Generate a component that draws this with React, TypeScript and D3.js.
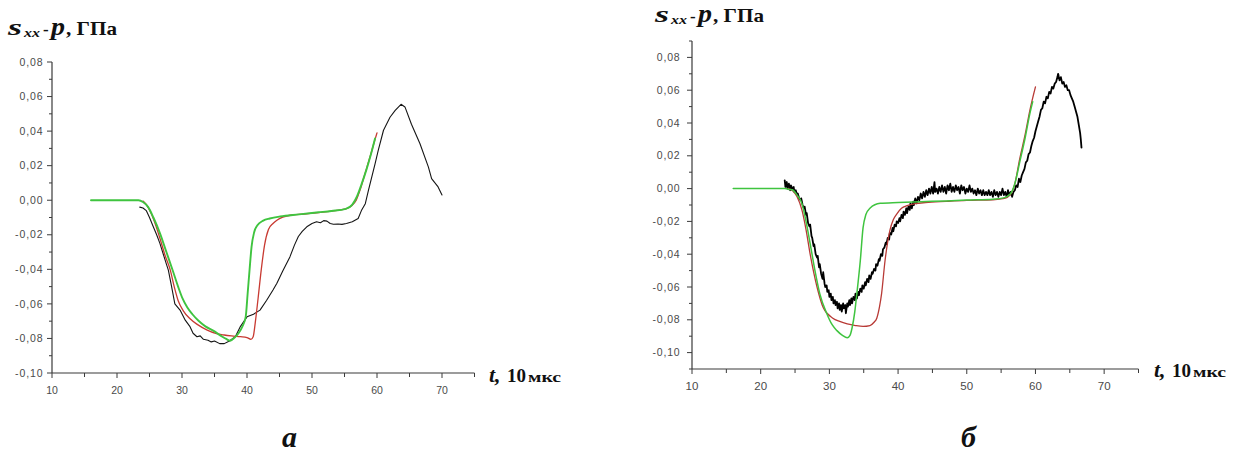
import React from "react";
import * as d3 from "d3";

// ---------- DATA ----------
const xTickValues = [10, 20, 30, 40, 50, 60, 70];
const xMinorValues = [15, 25, 35, 45, 55, 65, 75];
const yTickValues = [-0.1, -0.08, -0.06, -0.04, -0.02, 0, 0.02, 0.04, 0.06, 0.08];
const yMinorA = [-0.09, -0.07, -0.05, -0.03, -0.01, 0.01, 0.03, 0.05, 0.07];
const yMinorB = [-0.11, -0.09, -0.07, -0.05, -0.03, -0.01, 0.01, 0.03, 0.05, 0.07, 0.09];

const yLabelText = { s: "s", sub: "xx", dash: "-", p: "p", unit: ", ГПа" };
const xLabelText = { t: "t,", num: "10", unit: "мкс" };
const panelLetters = ["а", "б"];

// panel а : [t, value]
const aGreen: [number, number][] = [
  [16, 0], [23.3, 0], [24, -0.001], [24.8, -0.004], [25.6, -0.01], [26.6, -0.019], [27.6, -0.03],
  [28.6, -0.041], [29.4, -0.05], [30.1, -0.057], [30.8, -0.062], [31.6, -0.066], [32.5, -0.0696],
  [33.6, -0.073], [34.8, -0.0755], [36, -0.0785], [36.8, -0.0803], [37.4, -0.0813], [38.1, -0.0795],
  [38.7, -0.077], [39.3, -0.073], [39.8, -0.0675], [40.1, -0.054], [40.4, -0.04], [40.7, -0.027],
  [41.1, -0.0185], [41.6, -0.0145], [42.5, -0.0118], [43.5, -0.0106], [45.1, -0.0094], [48, -0.0082],
  [51, -0.007], [53, -0.0062], [55.2, -0.005], [56.2, -0.0025], [56.9, 0.002], [57.6, 0.009],
  [58.4, 0.018], [59.1, 0.027], [59.7, 0.0357],
];
const aRed: [number, number][] = [
  [24, -0.0005], [24.6, -0.003], [25.3, -0.008], [26, -0.015], [26.6, -0.022], [27.4, -0.032],
  [28.2, -0.0405], [28.8, -0.05], [29.4, -0.058], [30.2, -0.064], [31.2, -0.0685], [32.4, -0.072],
  [33.8, -0.075], [35.3, -0.0772], [36.5, -0.078], [37.9, -0.0786], [39, -0.079], [40, -0.0795],
  [40.6, -0.0805], [40.95, -0.079], [41.3, -0.07], [41.7, -0.057], [42.2, -0.04], [42.7, -0.026],
  [43.3, -0.017], [44, -0.0135], [44.6, -0.0116], [45.5, -0.0098], [46.6, -0.0087], [48, -0.0082],
  [51, -0.0072], [53, -0.0063], [55, -0.0052], [56, -0.0035], [56.8, 0.0], [57.4, 0.006],
  [58.2, 0.016], [59, 0.026], [59.6, 0.034], [60, 0.039],
];
const aBlack: [number, number][] = [
  [23.5, -0.004], [24, -0.0045], [24.5, -0.006], [25, -0.01], [25.6, -0.0155], [26.1, -0.02],
  [26.6, -0.025], [27.1, -0.031], [27.6, -0.037], [27.9, -0.0405], [28.4, -0.05], [28.9, -0.06],
  [29.7, -0.0636], [30.5, -0.0694], [31.2, -0.073], [31.7, -0.077], [32.3, -0.079], [32.8, -0.0785],
  [33.3, -0.0805], [34, -0.081], [34.5, -0.082], [35, -0.0815], [35.8, -0.083], [36.5, -0.083],
  [37.3, -0.0815], [38.2, -0.079], [39, -0.073], [40, -0.0675], [41, -0.066], [42, -0.0636],
  [43, -0.058], [44, -0.052], [44.6, -0.048], [45.5, -0.041], [46.6, -0.0328], [47.3, -0.026],
  [47.9, -0.021], [48.5, -0.018], [49.2, -0.0154], [50, -0.0135], [50.7, -0.0125], [51.3, -0.013],
  [51.8, -0.0118], [52.3, -0.0121], [52.8, -0.0135], [53.3, -0.0139], [54, -0.0138], [54.6, -0.014],
  [55.3, -0.0135], [56.2, -0.0125], [57.1, -0.0106], [57.6, -0.006], [58.2, -0.002], [58.7, 0.006],
  [59.2, 0.0135], [59.7, 0.021], [60.2, 0.029], [61, 0.0405], [62, 0.048], [62.8, 0.052],
  [63.7, 0.0555], [64.3, 0.054], [65.3, 0.044], [66.6, 0.0328], [67.9, 0.0193], [68.4, 0.0125],
  [69.4, 0.0077], [70, 0.003],
];

// panel б : [t, value]
const bGreen: [number, number][] = [
  [16, 0], [23.5, 0], [24.2, -0.0005], [24.7, -0.001], [25.3, -0.004], [26, -0.009], [26.6, -0.02],
  [27.2, -0.0335], [27.9, -0.05], [28.6, -0.064], [29.6, -0.076], [30.4, -0.083], [31.1, -0.0866],
  [31.9, -0.0895], [32.6, -0.091], [33, -0.0895], [33.3, -0.085], [33.7, -0.075], [34, -0.064],
  [34.5, -0.044], [34.9, -0.024], [35.3, -0.016], [35.9, -0.012], [37.4, -0.009], [40, -0.0085],
  [43.2, -0.008], [47, -0.0075], [50, -0.007], [53.8, -0.0065], [55.5, -0.0055], [56.3, -0.0035],
  [57, 0.003], [57.7, 0.016], [58.5, 0.031], [59.2, 0.046], [59.6, 0.053],
];
const bRed: [number, number][] = [
  [24, 0], [24.7, -0.0015], [25.3, -0.005], [26, -0.013], [26.6, -0.025], [27.2, -0.04],
  [28.2, -0.06], [29.1, -0.0725], [30.5, -0.079], [31.5, -0.081], [32.6, -0.0825], [33.8, -0.0835],
  [34.9, -0.084], [35.9, -0.0835], [36.5, -0.0815], [36.9, -0.079], [37.3, -0.072], [37.6, -0.064],
  [38.1, -0.044], [38.8, -0.0256], [39.3, -0.019], [39.8, -0.0155], [40.5, -0.012], [41.3, -0.0104],
  [42.5, -0.0092], [44, -0.0085], [47, -0.0078], [50, -0.0072], [53.8, -0.0068], [55.5, -0.006],
  [56.3, -0.004], [57, 0.003], [57.7, 0.018], [58.5, 0.033], [59.2, 0.048], [60, 0.062],
];
const bBlack: [number, number][] = [
  [23.5, 0.005], [23.6, 0.001], [23.8, 0.004], [23.9, 0.0], [24.1, 0.003], [24.3, -0.001],
  [24.4, 0.002], [24.6, 0.0], [24.8, 0.001], [24.9, -0.002], [25.1, -0.001], [25.3, -0.004],
  [25.4, -0.003], [25.6, -0.006], [25.8, -0.007], [25.9, -0.006], [26.1, -0.01], [26.3, -0.012],
  [26.4, -0.011], [26.6, -0.016], [26.7, -0.015], [26.9, -0.021], [27.1, -0.023], [27.2, -0.022],
  [27.4, -0.029], [27.5, -0.03], [27.7, -0.035], [27.8, -0.034], [28.0, -0.04], [28.2, -0.042],
  [28.3, -0.041], [28.5, -0.048], [28.6, -0.046], [28.8, -0.052], [29.0, -0.055], [29.1, -0.051],
  [29.3, -0.058], [29.4, -0.06], [29.6, -0.059], [29.7, -0.063], [29.9, -0.062], [30.0, -0.066],
  [30.2, -0.064], [30.3, -0.068], [30.5, -0.066], [30.6, -0.07], [30.8, -0.068], [30.9, -0.071],
  [31.1, -0.069], [31.2, -0.073], [31.4, -0.07], [31.5, -0.074], [31.7, -0.071], [31.8, -0.075],
  [32.0, -0.07], [32.1, -0.073], [32.3, -0.071], [32.4, -0.076], [32.6, -0.07], [32.7, -0.072],
  [32.9, -0.068], [33.0, -0.071], [33.2, -0.067], [33.3, -0.07], [33.5, -0.066], [33.7, -0.068],
  [33.8, -0.064], [34.0, -0.067], [34.2, -0.063], [34.3, -0.065], [34.5, -0.061], [34.7, -0.063],
  [34.8, -0.059], [35.0, -0.061], [35.2, -0.057], [35.3, -0.059], [35.5, -0.055], [35.7, -0.057],
  [35.8, -0.053], [36.0, -0.055], [36.2, -0.051], [36.3, -0.052], [36.5, -0.049], [36.7, -0.05],
  [36.8, -0.046], [37.0, -0.047], [37.2, -0.043], [37.3, -0.044], [37.5, -0.04], [37.7, -0.041],
  [37.8, -0.037], [38.0, -0.036], [38.2, -0.033], [38.3, -0.034], [38.5, -0.03], [38.7, -0.031],
  [38.8, -0.027], [39.0, -0.028], [39.2, -0.024], [39.3, -0.026], [39.5, -0.022], [39.7, -0.023],
  [39.8, -0.02], [40.0, -0.021], [40.2, -0.018], [40.3, -0.02], [40.5, -0.016], [40.7, -0.018],
  [40.8, -0.014], [41.0, -0.016], [41.2, -0.012], [41.3, -0.015], [41.5, -0.011], [41.7, -0.013],
  [41.8, -0.009], [42.0, -0.012], [42.2, -0.008], [42.3, -0.01], [42.5, -0.006], [42.7, -0.009],
  [42.9, -0.005], [43.1, -0.007], [43.3, -0.003], [43.5, -0.006], [43.7, -0.002], [43.9, -0.005],
  [44.1, -0.001], [44.3, -0.004], [44.5, 0.0], [44.7, -0.003], [44.9, 0.001], [45.1, -0.003],
  [45.3, 0.004], [45.4, -0.002], [45.6, 0.0], [45.8, -0.003], [46.0, 0.001], [46.2, -0.002],
  [46.4, 0.002], [46.6, -0.002], [46.8, 0.001], [47.0, -0.003], [47.2, 0.002], [47.4, -0.001],
  [47.6, 0.003], [47.8, -0.002], [48.0, 0.001], [48.2, -0.002], [48.4, 0.002], [48.6, -0.001],
  [48.8, 0.001], [49.0, -0.003], [49.2, 0.002], [49.4, -0.001], [49.6, 0.001], [49.8, -0.003],
  [50.0, 0.0], [50.2, -0.002], [50.4, 0.002], [50.6, -0.002], [50.8, 0.0], [51.0, -0.003],
  [51.2, -0.001], [51.4, -0.004], [51.6, 0.0], [51.8, -0.003], [52.0, -0.001], [52.2, -0.004],
  [52.4, -0.001], [52.6, -0.004], [52.8, -0.002], [53.0, -0.004], [53.2, -0.001], [53.4, -0.004],
  [53.6, -0.002], [53.8, -0.005], [54.0, -0.001], [54.2, -0.004], [54.4, -0.002], [54.6, -0.005],
  [54.8, -0.002], [55.0, -0.004], [55.2, 0.0], [55.4, -0.004], [55.6, -0.002], [55.8, -0.005],
  [56.0, -0.001], [56.2, -0.004], [56.4, -0.002], [56.6, -0.005], [56.8, -0.002], [57.0, -0.001],
  [57.2, 0.002], [57.4, 0.001], [57.6, 0.006], [57.8, 0.004], [58.0, 0.008], [58.2, 0.01],
  [58.4, 0.012], [58.6, 0.016], [58.8, 0.017], [59.0, 0.021], [59.2, 0.022], [59.4, 0.026],
  [59.6, 0.029], [59.8, 0.031], [60.0, 0.035], [60.2, 0.038], [60.4, 0.041], [60.6, 0.044],
  [60.8, 0.048], [61.0, 0.049], [61.2, 0.053], [61.4, 0.052], [61.6, 0.056], [61.8, 0.055],
  [62.0, 0.059], [62.2, 0.058], [62.4, 0.062], [62.6, 0.061], [62.8, 0.064], [63.0, 0.065],
  [63.2, 0.068], [63.3, 0.07], [63.5, 0.066], [63.7, 0.068], [63.9, 0.064], [64.1, 0.065],
  [64.3, 0.062], [64.5, 0.063], [64.7, 0.06], [64.9, 0.06], [65.1, 0.057], [65.3, 0.055],
  [65.5, 0.053], [65.7, 0.05], [65.9, 0.047], [66.1, 0.044], [66.3, 0.039], [66.5, 0.034],
  [66.6, 0.03], [66.7, 0.025],
];

// ---------- LAYOUT ----------
type Series = { data: [number, number][]; color: string; width: number; smooth: boolean };
type PanelCfg = {
  x0: number; x1: number; y0: number; y1: number;
  yDomain: [number, number];
  yMinor: number[];
  series: Series[];
  yLabelX: number; yLabelBase: number;
  tickLabelEnd: number;
  xLabelX: number; xLabelBase: number;
  letter: string; letterX: number;
  xTickSize: number; yLetterSpacing: number;
};

const panels: PanelCfg[] = [
  {
    x0: 52, x1: 474.5, y0: 373, y1: 62, yDomain: [-0.1, 0.08], yMinor: yMinorA,
    series: [
      { data: aBlack, color: "#151515", width: 1.1, smooth: false },
      { data: aRed, color: "#c83a32", width: 1.3, smooth: true },
      { data: aGreen, color: "#3fc43f", width: 1.9, smooth: true },
    ],
    yLabelX: 8, yLabelBase: 35, tickLabelEnd: 43.5,
    xLabelX: 489, xLabelBase: 382, letter: panelLetters[0], letterX: 289.5,
    xTickSize: 10.5, yLetterSpacing: 0.9,
  },
  {
    x0: 692, x1: 1138.5, y0: 369, y1: 41, yDomain: [-0.11, 0.09], yMinor: yMinorB,
    series: [
      { data: bBlack, color: "#000000", width: 1.8, smooth: false },
      { data: bRed, color: "#b83a36", width: 1.3, smooth: true },
      { data: bGreen, color: "#3fc43f", width: 1.5, smooth: true },
    ],
    yLabelX: 655, yLabelBase: 22, tickLabelEnd: 680.5,
    xLabelX: 1154, xLabelBase: 377, letter: panelLetters[1], letterX: 968.5,
    xTickSize: 11.5, yLetterSpacing: 0.8,
  },
];

const fmt = (v: number) => v.toFixed(2).replace(".", ",");
const tickFont = "Liberation Sans, Arial, Helvetica, sans-serif";
const serif = "Liberation Serif, Times New Roman, Times, serif";
const axisColor = "#3a3a3a";

function Panel({ cfg }: { cfg: PanelCfg }) {
  const x = d3.scaleLinear().domain([10, 75]).range([cfg.x0, cfg.x1]);
  const y = d3.scaleLinear().domain(cfg.yDomain).range([cfg.y0, cfg.y1]);
  const lineS = d3.line<[number, number]>().x((d) => x(d[0])).y((d) => y(d[1])).curve(d3.curveMonotoneX);
  const lineL = d3.line<[number, number]>().x((d) => x(d[0])).y((d) => y(d[1]));
  const yl = cfg.yLabelX;
  const yb = cfg.yLabelBase;
  const serifStyle = { fontFamily: serif };
  const sansStyle = { fontFamily: tickFont };
  return (
    <g>
      {cfg.series.map((s, i) => (
        <path key={i} d={(s.smooth ? lineS : lineL)(s.data) || ""} fill="none" stroke={s.color}
          strokeWidth={s.width} strokeLinejoin="round" strokeLinecap="round" />
      ))}
      <line x1={cfg.x0} x2={cfg.x0} y1={cfg.y0} y2={cfg.y1} stroke={axisColor} strokeWidth={1.2} />
      <line x1={cfg.x0} x2={cfg.x1} y1={cfg.y0} y2={cfg.y0} stroke={axisColor} strokeWidth={1.2} />
      {yTickValues.map((v) => (
        <g key={"yt" + v}>
          <line x1={cfg.x0 - 5} x2={cfg.x0} y1={y(v)} y2={y(v)} stroke={axisColor} strokeWidth={1} />
          <text x={cfg.tickLabelEnd} y={y(v)} dy="0.35em" textAnchor="end" style={sansStyle}
            fontSize={10.5} fill="#4a4a4a" letterSpacing={cfg.yLetterSpacing}>{fmt(v)}</text>
        </g>
      ))}
      {cfg.yMinor.map((v) => (
        <line key={"ym" + v} x1={cfg.x0 - 3} x2={cfg.x0} y1={y(v)} y2={y(v)} stroke={axisColor} strokeWidth={1} />
      ))}
      {xTickValues.map((v) => (
        <g key={"xt" + v}>
          <line x1={x(v)} x2={x(v)} y1={cfg.y0} y2={cfg.y0 + 5} stroke={axisColor} strokeWidth={1} />
          <text x={x(v)} y={cfg.y0 + 17} dy="0.35em" textAnchor="middle" style={sansStyle}
            fontSize={cfg.xTickSize} fill="#4a4a4a">{v}</text>
        </g>
      ))}
      {xMinorValues.map((v) => (
        <line key={"xm" + v} x1={x(v)} x2={x(v)} y1={cfg.y0} y2={cfg.y0 + 4} stroke={axisColor} strokeWidth={1} />
      ))}
      <g style={serifStyle} fontWeight="bold" fill="#111">
        <text x={yl} y={yb} fontSize={24} fontStyle="italic" textLength={14} lengthAdjust="spacingAndGlyphs">{yLabelText.s}</text>
        <text x={yl + 16} y={yb + 2} fontSize={13} fontStyle="italic" textLength={16} lengthAdjust="spacingAndGlyphs">{yLabelText.sub}</text>
        <text x={yl + 35} y={yb} fontSize={17}>{yLabelText.dash}</text>
        <text x={yl + 43} y={yb} fontSize={25} fontStyle="italic" textLength={14} lengthAdjust="spacingAndGlyphs">{yLabelText.p}</text>
        <text x={yl + 58} y={yb} fontSize={19} textLength={51} lengthAdjust="spacingAndGlyphs">{yLabelText.unit}</text>
      </g>
      <g style={serifStyle} fontWeight="bold" fill="#111">
        <text x={cfg.xLabelX} y={cfg.xLabelBase} fontSize={22} fontStyle="italic">{xLabelText.t}</text>
        <text x={cfg.xLabelX + 18} y={cfg.xLabelBase} fontSize={19}>{xLabelText.num}</text>
        <text x={cfg.xLabelX + 39} y={cfg.xLabelBase} fontSize={15} textLength={33} lengthAdjust="spacingAndGlyphs">{xLabelText.unit}</text>
      </g>
      <text x={cfg.letterX} y={447} textAnchor="middle" style={serifStyle} fontWeight="bold"
        fontStyle="italic" fontSize={30} fill="#111">{cfg.letter}</text>
    </g>
  );
}

export default function App() {
  return (
    <svg width={1233} height={452} style={{ position: "absolute", left: 0, top: 0, background: "#fff" }}>
      <rect x={0} y={0} width={1233} height={452} fill="#fff" />
      {panels.map((p, i) => (
        <Panel key={i} cfg={p} />
      ))}
    </svg>
  );
}
